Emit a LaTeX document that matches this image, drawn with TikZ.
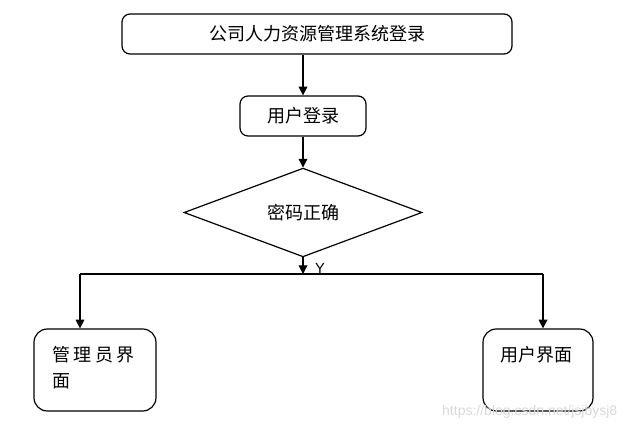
\documentclass[tikz,border=0pt]{standalone}
\usepackage{fontspec}
\setmainfont{Liberation Sans}
\newfontfamily\cjk{Noto Sans CJK SC}
\usetikzlibrary{arrows.meta, shapes.geometric}

\begin{document}
\begin{tikzpicture}[x=0.75pt, y=-0.75pt,
  box/.style={draw, line width=0.9pt, rounded corners=6pt, minimum height=30pt, font=\cjk\fontsize{13.5}{16}\selectfont},
  endbox/.style={draw, line width=0.9pt, rounded corners=10pt, minimum height=61.5pt},
  txt/.style={inner sep=0pt, font=\cjk\fontsize{13.5}{19.5}\selectfont},
  arr/.style={line width=0.9pt, -{Triangle[length=6.5pt, width=6.5pt]}}]
\useasboundingbox (0,0) rectangle (628,431);
\node[box, minimum width=292.5pt] (title) at (317,34) {公司人力资源管理系统登录};
\node[box, minimum width=94.5pt] (login) at (303,116) {用户登录};
\node[draw, diamond, line width=0.9pt, inner sep=0pt, minimum width=178.5pt, minimum height=50.25pt, font=\cjk\fontsize{13.5}{16}\selectfont] (check) at (303,212.5) {密码正确};
\node[endbox, minimum width=91.5pt] (admin) at (95,370) {};
\node[endbox, minimum width=82.5pt] (user) at (538,370) {};
\node[txt, anchor=north west, align=left] (admintxt) at (52,346) {管\hspace{2.6pt}理\hspace{2.6pt}员\hspace{2.6pt}界\\面};
\node[txt] (usertxt) at (536,355) {用户界面};
\coordinate (split) at (303,274);
\coordinate (lft) at (80,274);
\coordinate (rgt) at (543,274);
\draw[arr] (title.south -| login.north) -- (login.north);
\draw[arr] (login.south) -- (check.north);
\draw[arr] (check.south) -- (split);
\node[font=\fontsize{11}{13}\selectfont] (yes) at (320,268) {Y};
\draw[line width=0.9pt] (lft) -- (rgt);
\draw[arr] (lft) -- (lft |- admin.north);
\draw[arr] (rgt) -- (rgt |- user.north);
\node[anchor=east, text=gray!30, font=\fontsize{10.5}{12}\selectfont] (mark) at (622,412) {https://blog.csdn.net/jsjbysj8};
\end{tikzpicture}
\end{document}
